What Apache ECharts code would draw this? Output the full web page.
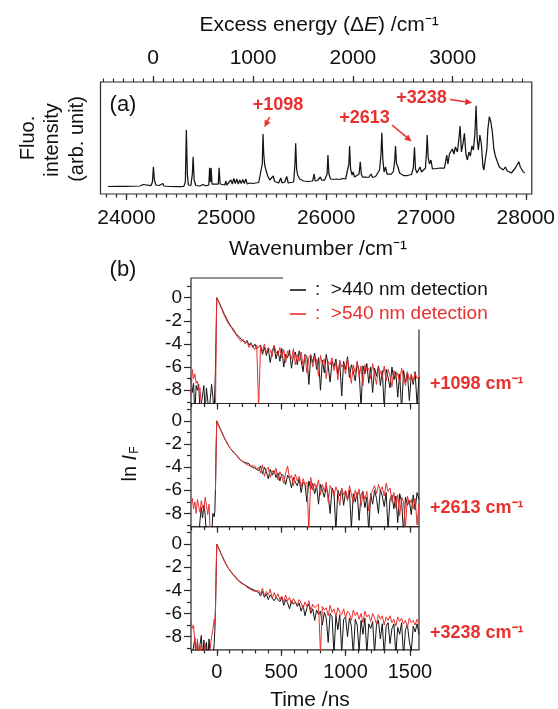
<!DOCTYPE html>
<html><head><meta charset="utf-8">
<script src="https://cdn.jsdelivr.net/npm/echarts@6/dist/echarts.min.js"></script>
<style>html,body{margin:0;padding:0;background:#fff}#c{width:558px;height:709px}</style>
</head><body><div id="c"></div>
<script>
// ---------- (a) fluorescence excitation spectrum: [wavenumber /cm-1, intensity (arb.)]
const spectrum = [
[23815,7.5],[23900,7.6],[23985,7.7],[24135,8.0],[24165,9.5],[24185,8.2],[24245,8.3],[24260,12],[24270,27.3],[24280,14],
[24295,9],[24315,10.5],[24325,8.5],[24365,10.5],[24375,8],[24435,7.5],[24535,7.4],[24575,7.6],[24590,12],[24600,64],
[24610,20],[24620,9],[24645,8.5],[24660,20],[24668,37.3],[24678,14],[24695,8.5],[24715,10],[24735,8],[24765,9.5],
[24795,8.2],[24825,9],[24833,26.3],[24841,12],[24848,26],[24857,10],[24875,8.5],[24920,10],[24928,26.3],[24938,10],
[24955,8.5],[24985,9],[24995,13],[25005,9],[25025,10],[25045,14],[25060,10],[25075,15.5],[25090,10.5],[25105,15],
[25120,10],[25135,14],[25150,10.5],[25165,14.5],[25180,10.5],[25195,15],[25210,10],[25235,11],[25265,10.5],[25295,11],
[25325,11.5],[25345,13],[25360,30],[25368,60],[25375,40],[25385,29],[25400,23],[25415,18],[25435,14],[25455,13],
[25470,18],[25485,12.5],[25505,13],[25525,11],[25545,16],[25560,11],[25585,12],[25605,17.5],[25620,11],[25645,11.5],
[25675,12],[25688,30],[25695,50.7],[25705,24],[25715,19],[25735,15],[25755,14],[25775,13],[25795,13.5],[25815,12.5],
[25835,12.3],[25865,13],[25880,20],[25890,13],[25915,13.5],[25942,17],[25955,14],[25985,14],[26010,20],[26018,39],
[26028,20],[26045,15],[26075,14.5],[26105,15],[26135,14.5],[26165,15.5],[26195,15],[26215,17],[26228,30],[26235,48],
[26245,25],[26260,19],[26270,22],[26285,17],[26305,16],[26330,20],[26342,32.3],[26352,20],[26365,17],[26395,17],
[26425,16.5],[26450,20],[26465,16.5],[26495,17.5],[26515,19],[26535,24],[26550,40],[26558,61.3],[26568,35],[26580,22],
[26595,27],[26610,20],[26630,18],[26655,20],[26675,23],[26688,35],[26695,48],[26705,30],[26720,27],[26735,21],
[26755,19],[26775,18.5],[26795,19],[26815,18.5],[26835,19],[26855,19.5],[26873,26],[26885,46.7],[26895,25],[26910,21],
[26925,23],[26940,27],[26955,22],[26975,23],[26995,26],[27005,42],[27012,59],[27022,36.7],[27035,30],[27050,34],
[27065,25],[27085,24],[27105,25.5],[27125,24],[27145,26],[27165,24],[27185,26],[27200,34],[27208,39],[27220,30],
[27235,40],[27250,38],[27265,45],[27280,40],[27295,47],[27315,42],[27330,55],[27342,68],[27355,42],[27370,50],
[27385,60.7],[27400,40],[27415,34],[27430,42],[27445,38],[27460,48],[27475,44],[27490,60],[27502,88.3],[27513,55],
[27525,44],[27540,59],[27555,50],[27570,28],[27580,24],[27595,35],[27610,45],[27620,65],[27635,77.3],[27650,72],
[27665,62],[27680,45],[27695,38],[27715,32.3],[27735,27],[27755,29],[27775,24],[27795,27],[27815,23],[27835,25],
[27855,21],[27875,22.3],[27895,26],[27915,28],[27930,32.3],[27945,27],[27960,28],[27975,22],[27990,21.3]
];
const wnRange = [23740, 28060];
const wnTicks = [24000, 25000, 26000, 27000, 28000];
const excessOrigin = 24268;            // 0-0 band position, cm-1
const excessTicks = [0, 1000, 2000, 3000];
const peakMarks = [
  {label: '+1098', excess: 1098},
  {label: '+2613', excess: 2613},
  {label: '+3238', excess: 3238}
];

// ---------- (b) fluorescence decays (ln I_F) vs time /ns
const timeNs = [
-200,-190,-180,-170,-160,-150,-140,-130,-120,-110,-100,-90,-80,-70,-60,-50,-40,-30,-20,
-15,-10,-5,0,
10,20,30,40,50,60,70,80,90,100,
115,130,145,160,175,190,205,220,235,250,265,280,295,310,
325,340,355,370,385,400,415,430,445,460,
475,490,505,520,535,550,565,580,595,610,
625,640,655,670,685,700,715,730,745,760,
775,790,805,820,835,850,865,880,895,910,
925,940,955,970,985,1000,1015,1030,1045,1060,
1075,1090,1105,1120,1135,1150,1165,1180,1195,1210,
1225,1240,1255,1270,1285,1300,1315,1330,1345,1360,
1375,1390,1405,1420,1435,1450,1465,1480,1495,1510,
1525,1540,1555,1570
];
const decay1098_440 = [
-7.0,-8.2,-7.4,-10,-7.6,-8.0,-7.5,-10,-10,-8.4,-7.6,-10,-7.8,-7.9,-10,-10,-7.5,-8.6,-10,
-7.9,-6.3,-3.0,0,
-0.2,-0.45,-0.7,-0.95,-1.2,-1.45,-1.65,-1.9,-2.1,-2.3,
-2.55,-2.75,-3.05,-3.2,-3.4,-3.6,-3.5,-3.9,-3.7,-4.1,-3.9,-4.3,-4.0,-4.4,
-4.5,-4.1,-4.9,-4.3,-5.0,-4.4,-5.6,-4.6,-4.2,-5.3,
-4.6,-5.5,-4.4,-6.0,-4.9,-5.2,-4.5,-6.1,-5.0,-4.7,
-5.8,-4.6,-5.4,-6.4,-4.9,-5.1,-7.5,-5.0,-5.6,-4.8,
-6.2,-5.2,-8.0,-5.4,-6.5,-4.9,-5.9,-7.3,-5.5,-6.0,
-5.3,-6.6,-5.6,-8.5,-5.5,-6.2,-5.1,-6.9,-5.8,-6.4,
-7.2,-5.6,-6.3,-9.5,-5.9,-6.6,-5.7,-7.4,-6.0,-8.2,
-6.1,-6.8,-5.9,-7.6,-6.3,-9.6,-6.2,-6.9,-7.8,-6.0,
-7.1,-6.4,-8.6,-6.6,-9.8,-6.3,-7.3,-6.5,-8.9,-6.7,
-7.5,-6.4,-9.3,-6.9
];
const decay1098_540 = [
-8.5,-6.2,-7.0,-6.6,-7.4,-7.2,-8.0,-7.8,-9.5,-10,-10,-10,-10,-10,-10,-10,-10,-10,-10,
-10,-10,-4.0,0,
-0.25,-0.5,-0.8,-1.0,-1.35,-1.5,-1.8,-1.95,-2.25,-2.3,
-2.6,-2.9,-3.1,-3.4,-3.3,-3.8,-3.6,-4.0,-3.8,-4.3,-4.0,-4.2,-4.5,-4.1,
-9.5,-4.2,-4.6,-4.0,-4.8,-4.3,-4.5,-5.1,-4.1,-4.7,
-5.0,-4.3,-5.2,-4.5,-5.6,-4.6,-4.9,-5.3,-4.4,-5.8,
-4.9,-5.5,-4.7,-5.9,-5.0,-6.5,-5.2,-4.9,-6.0,-5.1,
-5.4,-6.8,-5.0,-5.7,-5.3,-7.0,-5.5,-5.8,-5.2,-6.3,
-5.6,-7.1,-5.4,-6.0,-5.7,-6.6,-5.3,-6.2,-7.4,-5.8,
-6.5,-5.5,-6.9,-5.9,-7.6,-5.8,-6.3,-6.1,-7.0,-5.7,
-6.6,-7.5,-6.0,-6.4,-6.9,-5.9,-7.2,-6.2,-6.8,-7.7,
-6.3,-7.0,-6.5,-7.4,-6.1,-6.9,-7.6,-6.4,-7.1,-6.6,
-7.3,-6.5,-7.0,-6.8
];
const decay2613_440 = [
-10,-10,-10,-10,-10,-10,-10,-8.6,-7.5,-8.4,-7.3,-8.1,-10,-10,-10,-10,-10,-8.0,-8.3,
-7.8,-5.8,-2.5,0,
-0.25,-0.5,-0.75,-1.0,-1.25,-1.5,-1.7,-1.9,-2.1,-2.3,
-2.45,-2.7,-2.85,-3.05,-3.2,-3.45,-3.4,-3.6,-3.75,-3.7,-3.95,-3.85,-4.1,-4.0,
-4.3,-3.9,-4.6,-4.0,-4.4,-5.0,-4.2,-4.7,-4.3,-4.9,
-4.5,-5.2,-4.6,-4.8,-5.5,-4.7,-5.0,-5.8,-4.9,-5.3,
-5.6,-5.0,-6.2,-5.3,-5.5,-7.0,-5.2,-5.9,-5.4,-6.3,
-5.6,-7.2,-5.5,-6.0,-6.6,-5.7,-6.4,-8.0,-5.8,-6.2,
-9.5,-6.0,-6.5,-5.9,-7.3,-6.1,-6.8,-6.0,-9.3,-6.3,
-7.0,-6.2,-8.6,-6.4,-6.1,-7.5,-6.6,-9.6,-6.3,-7.2,
-6.0,-6.7,-8.0,-5.9,-6.5,-7.4,-6.2,-9.4,-6.8,-6.4,
-7.6,-6.5,-8.8,-6.3,-7.0,-9.7,-6.6,-7.3,-6.9,-8.1,
-6.4,-7.7,-6.2,-6.8
];
const decay2613_540 = [
-7.1,-6.7,-7.6,-7.0,-8.0,-6.8,-7.4,-7.9,-6.9,-7.5,-7.7,-6.6,-7.3,-8.1,-7.2,-10,-10,-10,-10,
null,-6.0,-2.5,0,
-0.3,-0.55,-0.8,-1.05,-1.3,-1.5,-1.75,-1.95,-2.1,-2.3,
-2.5,-2.65,-2.9,-3.0,-3.3,-3.35,-3.55,-3.5,-3.8,-3.65,-3.9,-4.0,-3.9,-4.2,
-4.0,-4.5,-3.8,-4.8,-4.2,-4.0,-4.9,-4.3,-4.6,-4.1,
-5.1,-4.4,-4.8,-5.4,-4.5,-3.9,-5.0,-4.7,-5.6,-4.6,
-5.2,-4.8,-5.7,-5.0,-5.5,-5.3,-9.5,-4.9,-6.0,-5.4,
-5.8,-5.1,-6.4,-5.5,-6.1,-5.3,-7.0,-5.6,-5.9,-6.5,
-5.7,-6.2,-7.3,-5.8,-6.4,-6.0,-6.9,-5.6,-6.3,-7.1,
-6.0,-6.6,-5.9,-7.4,-6.2,-6.8,-6.1,-7.8,-6.4,-6.0,
-5.6,-6.3,-5.5,-6.0,-5.7,-6.5,-5.4,-6.1,-5.8,-7.0,
-6.2,-7.5,-6.4,-8.2,-6.6,-7.0,-9.3,-6.5,-7.2,-6.8,
-7.6,-6.7,-9.0,-7.1
];
const decay3238_440 = [
-10,-10,-8.9,-8.1,-10,-8.4,-10,-8.7,-7.9,-10,-8.3,-10,-8.5,-10,-8.2,-10,-10,-10,-8.6,
-7.5,-5.5,-2.8,0,
-0.25,-0.5,-0.75,-1.0,-1.25,-1.5,-1.7,-1.9,-2.1,-2.25,
-2.45,-2.65,-2.85,-3.0,-3.2,-3.35,-3.45,-3.6,-3.65,-3.8,-3.85,-3.95,-4.0,-4.1,
-4.2,-4.5,-4.1,-4.6,-4.3,-4.8,-4.4,-4.5,-4.9,-4.6,
-4.7,-5.0,-4.6,-5.3,-4.8,-5.1,-5.6,-4.9,-5.2,-5.0,
-5.4,-5.1,-5.8,-5.3,-6.2,-5.5,-5.2,-6.0,-5.6,-6.6,
-5.7,-6.1,-5.8,-7.0,-5.9,-6.4,-8.5,-6.0,-6.3,-9.5,
-6.2,-7.4,-6.1,-9.4,-6.5,-6.3,-8.0,-6.4,-7.1,-9.6,
-6.5,-7.0,-9.3,-6.6,-7.8,-6.4,-9.5,-6.9,-7.3,-6.7,
-9.4,-7.0,-6.6,-8.2,-6.9,-9.6,-7.1,-6.8,-8.6,-7.3,
-6.9,-9.5,-7.2,-7.8,-6.8,-9.7,-7.4,-7.0,-8.4,-9.3,
-7.1,-7.6,-6.9,-7.8
];
const decay3238_540 = [
-6.6,-7.3,-7.0,-8.5,-10,-8.2,-10,-8.8,-10,-10,-10,-8.6,-10,-10,-10,-8.9,-8.0,-7.4,-6.5,
-7.0,-5.8,-2.6,0,
-0.25,-0.5,-0.75,-1.0,-1.2,-1.45,-1.7,-1.9,-2.05,-2.25,
-2.5,-2.7,-2.8,-3.1,-3.15,-3.4,-3.5,-3.55,-3.75,-3.7,-3.95,-3.9,-4.1,-4.05,
-4.0,-4.3,-3.8,-4.5,-4.1,-4.4,-3.9,-4.7,-4.2,-4.6,
-4.3,-4.8,-4.5,-5.0,-4.4,-4.9,-4.6,-5.2,-4.7,-5.0,
-5.3,-4.8,-5.1,-5.6,-5.0,-5.4,-4.9,-5.8,-5.2,-5.5,
-5.6,-5.2,-9.4,-5.4,-5.7,-5.5,-6.2,-5.3,-5.9,-5.6,
-6.3,-5.5,-5.9,-6.1,-5.6,-6.4,-5.8,-6.0,-6.6,-5.7,
-6.2,-5.9,-6.5,-6.0,-6.8,-5.8,-6.3,-6.1,-6.7,-6.0,
-6.4,-6.9,-6.1,-6.5,-6.2,-7.0,-6.3,-6.6,-6.2,-6.8,
-6.5,-7.1,-6.3,-6.7,-6.4,-6.9,-6.6,-7.2,-6.4,-6.8,
-6.6,-7.0,-6.5,-6.9
];
const decayPanels = [
  {label: '+1098 cm⁻¹', black: decay1098_440, red: decay1098_540},
  {label: '+2613 cm⁻¹', black: decay2613_440, red: decay2613_540},
  {label: '+3238 cm⁻¹', black: decay3238_440, red: decay3238_540}
];
const legendNames = ['>440 nm detection', '>540 nm detection'];
const timeRange = [-200, 1570];
const timeTicks = [0, 500, 1000, 1500];
const lnTicks = [0, -2, -4, -6, -8];
const lnMinorTicks = [1, -1, -3, -5, -7, -9];

// ---------- styling / layout
const FONT = 'Liberation Sans, Arial, Helvetica, sans-serif';
const BLACK = '#141414', RED = '#e8302e', AX = '#2a2a2a';
const grids = [
  {left: 100.5, top: 82, width: 432.5, height: 112},
  {left: 191, top: 278, width: 228, height: 125.5},
  {left: 191, top: 403.5, width: 228, height: 123.2},
  {left: 191, top: 526.7, width: 228, height: 123.2}
];
const lnMax = [1.7, 1.5, 1.5], lnMin = -9.15;

function stepVals(a, b, s) { const r = []; for (let v = a; v <= b + 1e-9; v += s) r.push(v); return r; }

function tickAxis(o) {
  return {
    type: 'value', gridIndex: o.grid, position: o.pos, min: o.min, max: o.max,
    axisLine: {show: false, onZero: false}, splitLine: {show: false},
    axisTick: {show: true, inside: false, length: o.len, customValues: o.ticks,
               lineStyle: {color: AX, width: 1.2}},
    axisLabel: o.labels ? {show: true, customValues: o.ticks, fontSize: o.fs, color: '#111',
               fontFamily: FONT, margin: o.margin, formatter: v => String(v)} : {show: false}
  };
}

const xAxes = [], yAxes = [];
// spectrum axes
xAxes.push(tickAxis({grid: 0, pos: 'bottom', min: wnRange[0], max: wnRange[1], len: 6, ticks: wnTicks, labels: true, fs: 21, margin: 14}));
xAxes.push(tickAxis({grid: 0, pos: 'bottom', min: wnRange[0], max: wnRange[1], len: 3.5, ticks: stepVals(23800, 28000, 100)}));
xAxes.push(tickAxis({grid: 0, pos: 'top', min: wnRange[0] - excessOrigin, max: wnRange[1] - excessOrigin, len: 6, ticks: excessTicks, labels: true, fs: 21, margin: 13}));
xAxes.push(tickAxis({grid: 0, pos: 'top', min: wnRange[0] - excessOrigin, max: wnRange[1] - excessOrigin, len: 3.5, ticks: stepVals(-500, 3700, 100)}));
yAxes.push({type: 'value', gridIndex: 0, min: 0, max: 112, show: false});
// decay axes
for (let p = 0; p < 3; p++) {
  const g = p + 1;
  xAxes.push(tickAxis({grid: g, pos: 'bottom', min: timeRange[0], max: timeRange[1], len: 6, ticks: timeTicks, labels: p === 2, fs: 20, margin: 13}));
  xAxes.push(tickAxis({grid: g, pos: 'bottom', min: timeRange[0], max: timeRange[1], len: 3.5, ticks: stepVals(-200, 1500, 100)}));
  yAxes.push(tickAxis({grid: g, pos: 'left', min: lnMin, max: lnMax[p], len: 7, ticks: lnTicks, labels: true, fs: 19, margin: 9}));
  yAxes.push(tickAxis({grid: g, pos: 'left', min: lnMin, max: lnMax[p], len: 4, ticks: lnMinorTicks.filter(v => v <= lnMax[p])}));
}

const series = [{
  type: 'line', xAxisIndex: 0, yAxisIndex: 0, data: spectrum, showSymbol: false, symbol: 'none',
  lineStyle: {color: BLACK, width: 1.25}, clip: true, silent: true
}];
decayPanels.forEach((dp, p) => {
  const xi = 4 + p * 2, yi = 1 + p * 2;
  [['black', BLACK], ['red', RED]].forEach(([k, col]) => {
    series.push({
      type: 'line', xAxisIndex: xi, yAxisIndex: yi, symbol: 'none', showSymbol: false,
      data: timeNs.map((t, i) => [t, dp[k][i]]), connectNulls: false,
      lineStyle: {color: col, width: 1}, clip: true, silent: true
    });
  });
});

const chart = echarts.init(document.getElementById('c'), null, {renderer: 'canvas'});
chart.setOption({
  animation: false, backgroundColor: '#fff',
  grid: grids.map(g => Object.assign({show: true, borderColor: AX, borderWidth: 1.2, backgroundColor: 'transparent', containLabel: false}, g)),
  xAxis: xAxes, yAxis: yAxes, series: series
});

// ---------- annotations (text & arrows)
function txt(x, y, text, o = {}) {
  return {type: 'text', x, y, rotation: o.rot || 0, z: 120,
    style: {text, fill: o.fill || '#111', font: o.font || ('20px ' + FONT), align: o.align || 'center',
            verticalAlign: o.va || 'middle', rich: o.rich}};
}
function arrow(x1, y1, x2, y2, col) {
  const a = Math.atan2(y2 - y1, x2 - x1), L = 7, W = 3.2;
  const bx = x2 - L * Math.cos(a), by = y2 - L * Math.sin(a);
  return [
    {type: 'line', z: 120, shape: {x1, y1, x2: bx, y2: by}, style: {stroke: col, lineWidth: 1.6}},
    {type: 'polygon', z: 120, shape: {points: [[x2, y2], [bx + W * Math.sin(a), by - W * Math.cos(a)], [bx - W * Math.sin(a), by + W * Math.cos(a)]]},
     style: {fill: col}}
  ];
}
const px = (wn, v) => chart.convertToPixel({xAxisIndex: 0, yAxisIndex: 0}, [wn, v]);
const g = [];
// axis titles
g.push(txt(319, 25, '{a|Excess energy (Δ}{i|E}{a|) /cm⁻¹}', {rich: {a: {fontSize: 21, fontFamily: FONT, fill: '#111'}, i: {fontSize: 21, fontFamily: FONT, fontStyle: 'italic', fill: '#111'}}}));
g.push(txt(318, 249, 'Wavenumber /cm⁻¹', {font: '21px ' + FONT}));
g.push(txt(28, 138, 'Fluo.', {rot: Math.PI / 2}));
g.push(txt(52, 140, 'intensity', {rot: Math.PI / 2}));
g.push(txt(77, 139, '(arb. unit)', {rot: Math.PI / 2}));
g.push(txt(123, 105, '(a)', {font: '22px ' + FONT}));
// peak annotations in (a)
const annPos = [
  {tx: 278, ty: 105, from: [269.5, 117], dy: -3},
  {tx: 364.5, ty: 118.5, from: [392, 125], dy: -3},
  {tx: 421.5, ty: 98.5, from: [450, 99.5], dy: -2}
];
peakMarks.forEach((m, i) => {
  const a = annPos[i];
  g.push(txt(a.tx, a.ty, m.label, {font: 'bold 18px ' + FONT, fill: RED}));
  const pk = spectrum.reduce((best, d) => Math.abs(d[0] - excessOrigin - m.excess) < Math.abs(best[0] - excessOrigin - m.excess) ? d : best);
  const tip = px(pk[0], pk[1]);
  const ang = Math.atan2(tip[1] - a.from[1], tip[0] - a.from[0]);
  g.push(...arrow(a.from[0], a.from[1], tip[0] - 4 * Math.cos(ang), tip[1] - 4 * Math.sin(ang) + a.dy, RED));
});
// (b)
g.push(txt(123, 270, '(b)', {font: '22px ' + FONT}));
g.push(txt(130, 464, '{a|ln }{i|I}{s|F}', {rot: Math.PI / 2, rich: {
  a: {fontSize: 20, fontFamily: FONT, fill: '#111'},
  i: {fontSize: 20, fontFamily: FONT, fontStyle: 'italic', fill: '#111'},
  s: {fontSize: 12, fontFamily: FONT, fill: '#111', padding: [10, 0, 0, 1]}}}));
g.push(txt(310, 700, 'Time /ns', {font: '21px ' + FONT}));
// legend (covers the top-right corner of the first frame)
g.push({type: 'rect', z: 110, shape: {x: 283, y: 271, width: 138.5, height: 58.5}, style: {fill: '#fff'}});
[[BLACK, 290, legendNames[0]], [RED, 314, legendNames[1]]].forEach(([c, y, name]) => {
  g.push({type: 'line', z: 120, shape: {x1: 290, y1: y, x2: 306, y2: y}, style: {stroke: c, lineWidth: 1.6}});
  g.push(txt(315, y, ':  ' + name, {fill: c, align: 'left', font: '19px ' + FONT}));
});
// panel labels
const panelY = [384, 508.5, 633.5];
decayPanels.forEach((dp, i) => g.push(txt(430, panelY[i], dp.label, {align: 'left', fill: RED, font: 'bold 18px ' + FONT})));
chart.setOption({graphic: {elements: g}});
</script></body></html>
